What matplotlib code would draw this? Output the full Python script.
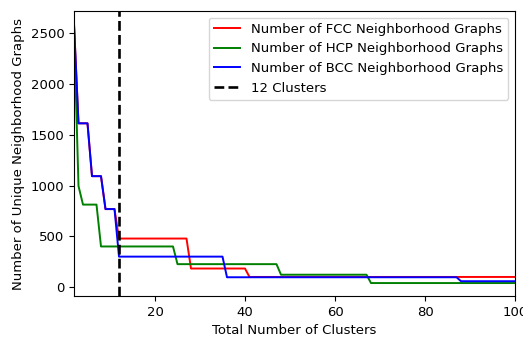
import matplotlib
matplotlib.use('Agg')
import matplotlib.pyplot as plt

# corner points of each curve (cluster count, number of unique graphs)
fcc_clusters = [2, 3, 5, 6, 8, 9, 11, 12, 27, 28, 40, 41, 100]
fcc_graphs = [2590, 1612, 1612, 1092, 1092, 768, 768, 478, 478, 183, 183, 100, 100]

hcp_clusters = [2, 3, 4, 7, 8, 24, 25, 47, 48, 67, 68, 100]
hcp_graphs = [2560, 995, 812, 812, 400, 400, 226, 226, 122, 122, 40, 40]

bcc_clusters = [2, 3, 5, 6, 8, 9, 11, 12, 35, 36, 87, 88, 100]
bcc_graphs = [2590, 1612, 1612, 1092, 1092, 768, 768, 300, 300, 97, 97, 58, 58]

chosen_clusters = 12

FS = 9.5
LW = 1.4


def plot_graph_counts(output_file):
    plt.rcParams['font.size'] = FS
    fig = plt.figure(figsize=(5.23, 3.37), dpi=100)
    ax = fig.add_axes([74 / 523, 1 - 296 / 337, (515 - 74) / 523, (296 - 11) / 337])

    ax.plot(fcc_clusters, fcc_graphs, color='r', lw=LW, label='Number of FCC Neighborhood Graphs')
    ax.plot(hcp_clusters, hcp_graphs, color='g', lw=LW, label='Number of HCP Neighborhood Graphs')
    ax.plot(bcc_clusters, bcc_graphs, color='b', lw=LW, label='Number of BCC Neighborhood Graphs')
    ax.axvline(chosen_clusters, color='k', linestyle='--', lw=1.9, label=f'{chosen_clusters} Clusters')

    ax.set_xlim(2, 100)
    ax.set_xticks([20, 40, 60, 80, 100])
    ax.set_xlabel('Total Number of Clusters')
    ax.set_ylabel('Number of Unique Neighborhood Graphs')
    ax.legend(loc='upper right')

    fig.savefig(output_file, dpi=100)
    plt.close(fig)


if __name__ == '__main__':
    plot_graph_counts('out.png')
